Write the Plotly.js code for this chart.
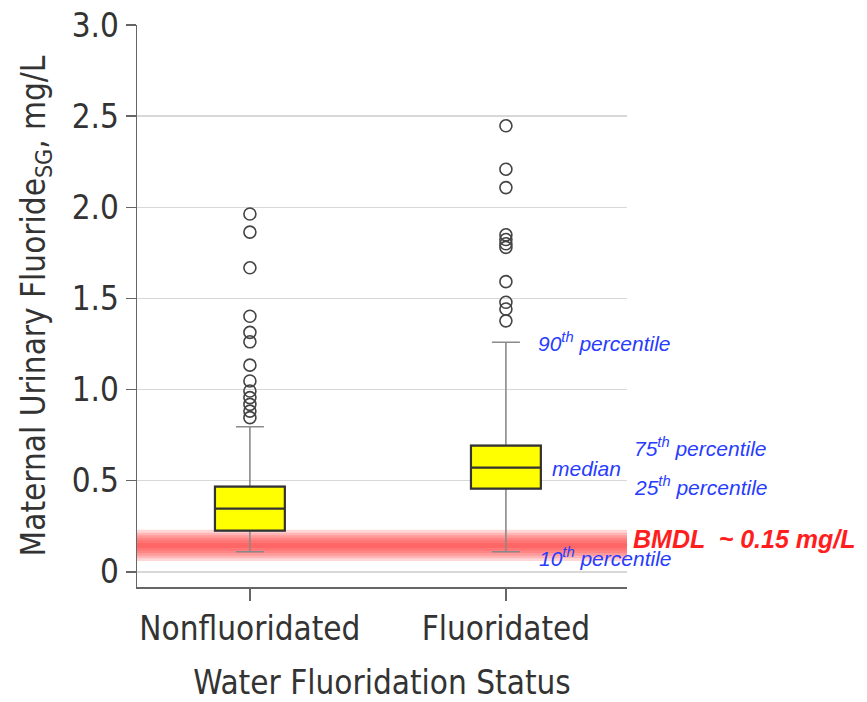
<!DOCTYPE html>
<html>
<head>
<meta charset="utf-8">
<script src="https://cdn.plot.ly/plotly-3.0.1.min.js"></script>
<style>html,body{margin:0;padding:0;background:#fff;}#chart{width:867px;height:702px;}</style>
</head>
<body>
<div id="chart"></div>
<script>
// ---- data ----
var categories = ['Nonfluoridated', 'Fluoridated'];
var p10 = [0.11, 0.11];
var q1 = [0.226, 0.457];
var medians = [0.347, 0.572];
var q3 = [0.468, 0.693];
var p90 = [0.796, 1.26];
var outliersNonfluoridated = [1.963, 1.864, 1.668, 1.402, 1.314, 1.262, 1.134, 1.047, 0.992, 0.956, 0.919, 0.882, 0.846];
var outliersFluoridated = [2.447, 2.209, 2.108, 1.849, 1.823, 1.80, 1.78, 1.592, 1.479, 1.442, 1.377];
var bmdl = 0.145;
var bmdlLabel = 'BMDL  ~ 0.15 mg/L';
var yTickVals = [0, 0.5, 1.0, 1.5, 2.0, 2.5, 3.0];
var yTickText = ['0', '0.5', '1.0', '1.5', '2.0', '2.5', '3.0'];

var condensed = '"DejaVu Sans Condensed", "Liberation Sans Narrow", "Roboto Condensed", "Open Sans", sans-serif';
var blue = 'rgb(40,60,255)';

var whiskerTrace = {
  type: 'box', x: categories, q1: q1, median: medians, q3: q3,
  lowerfence: p10, upperfence: p90,
  boxpoints: false, width: 0.273, whiskerwidth: 0.4,
  fillcolor: '#ffff00', line: {color: '#8a8a8a', width: 1.6},
  hoverinfo: 'skip', showlegend: false
};
var bodyTrace = {
  type: 'box', x: categories, q1: q1, median: medians, q3: q3,
  lowerfence: q1, upperfence: q3,
  boxpoints: false, width: 0.273, whiskerwidth: 0,
  fillcolor: '#ffff00', line: {color: '#333333', width: 2.2},
  hoverinfo: 'skip', showlegend: false
};
var outX = outliersNonfluoridated.map(function(){return categories[0];})
  .concat(outliersFluoridated.map(function(){return categories[1];}));
var outY = outliersNonfluoridated.concat(outliersFluoridated);
var outlierTrace = {
  type: 'scatter', mode: 'markers', x: outX, y: outY,
  marker: {symbol: 'circle-open', size: 12, color: '#444', line: {width: 1.6, color: '#444'}},
  hoverinfo: 'skip', showlegend: false, cliponaxis: false
};

var shapes = [];
var halfWidths = [0.014, 0.028, 0.042, 0.056, 0.07, 0.086];
halfWidths.forEach(function(h){
  shapes.push({type: 'rect', xref: 'paper', yref: 'y', x0: 0, x1: 1,
    y0: bmdl - h, y1: bmdl + h, fillcolor: 'rgb(255,50,50)', opacity: 0.2,
    line: {width: 0}, layer: 'below'});
});

var annFont = {family: '"Liberation Sans", Arial, sans-serif', size: 21, color: blue};
function ann(text, x, y, yshift, font) {
  return {text: text, xref: 'paper', yref: 'y', x: x, y: y, xanchor: 'left', yanchor: 'middle',
    yshift: yshift, showarrow: false, font: font || annFont};
}
var italic = function(s){ return '<i>' + s + '</i>'; };
var annotations = [
  ann(italic('90<sup>th</sup> percentile'), 0.814, p90[1], 0),
  ann(italic('median'), 0.843, medians[1], -1),
  ann(italic('75<sup>th</sup> percentile'), 1.010, q3[1], -1),
  ann(italic('25<sup>th</sup> percentile'), 1.010, q1[1], 3),
  ann(italic('10<sup>th</sup> percentile'), 0.816, p10[1], -5),
  ann('<b><i>' + bmdlLabel + '</i></b>', 1.008, bmdl, 6,
      {family: '"Liberation Sans", Arial, sans-serif', size: 25, color: 'rgb(255,30,30)'})
];

var layout = {
  width: 867, height: 702,
  margin: {l: 137, r: 240, t: 25, b: 115},
  paper_bgcolor: '#fff', plot_bgcolor: '#fff',
  showlegend: false,
  boxmode: 'overlay',
  font: {family: condensed, color: '#333'},
  xaxis: {
    type: 'category', categoryarray: categories, range: [-0.441, 1.473],
    showgrid: false, zeroline: false,
    showline: true, linecolor: '#666', linewidth: 1.5,
    ticks: 'outside', ticklen: 12, tickwidth: 1.5, tickcolor: '#666',
    tickfont: {family: condensed, size: 33, color: '#333'},
    title: {text: 'Water Fluoridation Status', font: {family: condensed, size: 33, color: '#333'}, standoff: 35},
    automargin: false, fixedrange: true
  },
  yaxis: {
    range: [-0.083, 3.0],
    tickvals: yTickVals, ticktext: yTickText,
    showgrid: true, gridcolor: '#d8d8d8', gridwidth: 1.5,
    zeroline: false,
    showline: true, linecolor: '#666', linewidth: 1.5,
    ticks: 'outside', ticklen: 10, tickwidth: 1.5, tickcolor: '#666',
    tickfont: {family: condensed, size: 33, color: '#333'},
    title: {text: 'Maternal Urinary Fluoride<sub>SG</sub>, mg/L', font: {family: condensed, size: 33, color: '#333'}, standoff: 16},
    automargin: false, fixedrange: true
  },
  shapes: shapes,
  annotations: annotations
};

Plotly.newPlot('chart', [whiskerTrace, bodyTrace, outlierTrace], layout, {displayModeBar: false, staticPlot: true});
</script>
</body>
</html>
